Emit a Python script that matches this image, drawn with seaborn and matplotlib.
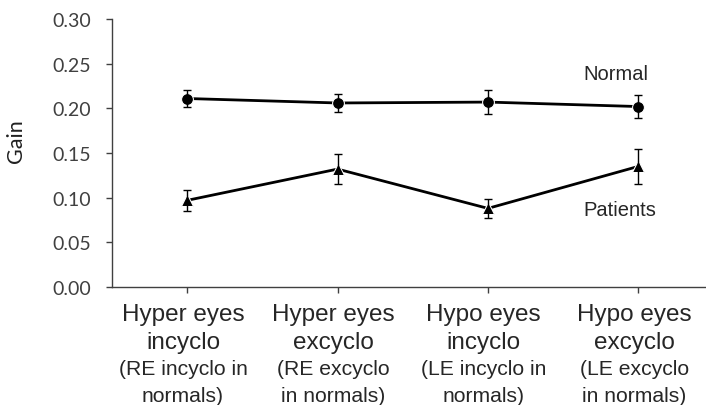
import numpy as np
import pandas as pd
import matplotlib
matplotlib.use("Agg")
import matplotlib.pyplot as plt
import seaborn as sns

# datos
conditions = [["Hyper eyes", "incyclo"], ["Hyper eyes", "excyclo"], ["Hypo eyes", "incyclo"], ["Hypo eyes", "excyclo"]]
notes = [["(RE incyclo in", "normals)"], ["(RE excyclo", "in normals)"], ["(LE incyclo in", "normals)"], ["(LE excyclo", "in normals)"]]
normal_gain = [0.211, 0.206, 0.207, 0.202]
normal_err = [0.009, 0.010, 0.013, 0.013]
patients_gain = [0.097, 0.132, 0.088, 0.135]
patients_err = [0.012, 0.017, 0.011, 0.020]
y_ticks = [0.00, 0.05, 0.10, 0.15, 0.20, 0.25, 0.30]

sns.set_style("ticks")
plt.rcParams['font.family'] = ['Liberation Sans', 'DejaVu Sans']

df = pd.DataFrame({
    'pos': list(range(len(conditions))) * 2,
    'gain': normal_gain + patients_gain,
    'err': normal_err + patients_err,
    'group': ['Normal'] * 4 + ['Patients'] * 4,
})

fig = plt.figure(figsize=(7.06, 4.06), dpi=100)
ax = fig.add_axes([112 / 706, 118 / 406, 594 / 706, 268 / 406])

sns.lineplot(data=df, x='pos', y='gain', style='group', markers={'Normal': 'o', 'Patients': '^'},
             dashes=False, color='black', linewidth=2.0, markersize=8.5, ax=ax, legend=False)

for grp in ['Normal', 'Patients']:
    sub = df[df['group'] == grp]
    ax.errorbar(sub['pos'], sub['gain'], yerr=sub['err'], fmt='none', ecolor='black',
                elinewidth=1.0, capsize=3, capthick=1.0)

ax.set_xlim(-0.5, 3.45)
ax.set_ylim(0, 0.30)
ax.set_yticks(y_ticks)
ax.set_yticklabels([f"{v:.2f}" for v in y_ticks], family='Lato', fontsize=14, color='#404040')
ax.set_xticks(range(len(conditions)))
ax.set_xticklabels([])
ax.tick_params(axis='y', length=4, width=1, pad=11, color='#404040')
ax.tick_params(axis='x', length=4, width=1, color='#404040')
ax.set_xlabel('')
ax.set_ylabel('')
for side in ['top', 'right']:
    ax.spines[side].set_visible(False)
for side in ['left', 'bottom']:
    ax.spines[side].set_color('#404040')
    ax.spines[side].set_linewidth(1.0)

# etiquetas de categorias, una linea a la vez
offsets = [-19.4, -39.6, -59.0, -77.8]
sizes = [17.5, 17.5, 15.2, 15.2]
for i, (c, n) in enumerate(zip(conditions, notes)):
    for txt, off, fs in zip(c + n, offsets, sizes):
        ax.annotate(txt, xy=(i, 0), xycoords=('data', 'axes fraction'), xytext=(-3, off),
                    textcoords='offset points', ha='center', va='center', fontsize=fs)

ax.text(2.85, 0.239, 'Normal', ha='center', va='center', fontsize=14.5)
ax.text(2.88, 0.0867, 'Patients', ha='center', va='center', fontsize=14.5)

fig.text(16 / 706, 1 - 141 / 406, 'Gain', rotation=90, ha='center', va='center',
         family='Lato', fontsize=15.5, color='#202020')

fig.savefig('out.png', dpi=100)
